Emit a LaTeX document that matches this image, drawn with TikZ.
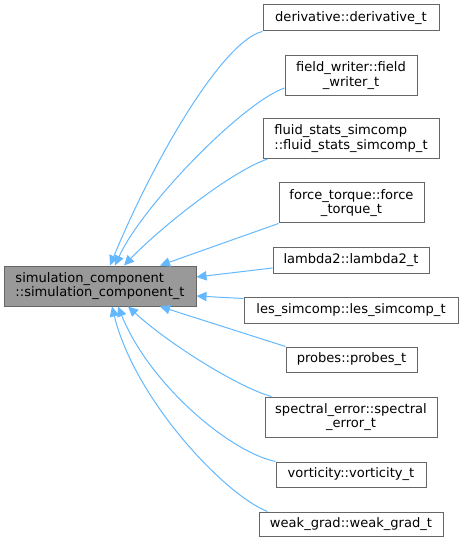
\documentclass[tikz,border=0pt]{standalone}
\usepackage{fontspec}
\setmainfont{DejaVu Sans}
\usetikzlibrary{arrows.meta,calc}
\definecolor{edgeblue}{HTML}{63B8FF}
\definecolor{boxline}{HTML}{666666}
\definecolor{basegray}{HTML}{999999}

\begin{document}
\begin{tikzpicture}[x=0.75pt,y=-0.75pt,
  cls/.style={draw=boxline, fill=white, line width=0.75pt, inner sep=0pt,
    font=\fontsize{9.8pt}{11pt}\selectfont, align=center, minimum height=19.5pt},
  cls2/.style={cls, minimum height=30pt},
  baseclass/.style={cls2, fill=basegray, align=left},
  inh/.style={draw=edgeblue, line width=0.75pt,
    -{Triangle[length=7.5pt,width=7pt]}}]
  \useasboundingbox (0,0) rectangle (464,541);

  \node[baseclass, minimum width=144pt] (base) at (100,286)
    {simulation\_component\\::simulation\_component\_t};

  \node[cls, minimum width=132pt] (deriv) at (351,18) {derivative::derivative\_t};
  \node[cls2, minimum width=99pt] (fwriter) at (351,75.5) {field\_writer::field\\\_writer\_t};
  \node[cls2, minimum width=132pt, align=left] (fstats) at (351,138.5)
    {fluid\_stats\_simcomp\\::fluid\_stats\_simcomp\_t};
  \node[cls2, minimum width=108.75pt] (ftorque) at (351.5,203) {force\_torque::force\\\_torque\_t};
  \node[cls, minimum width=117pt] (lambda) at (351,260) {lambda2::lambda2\_t};
  \node[cls, minimum width=160.5pt] (les) at (351,310) {les\_simcomp::les\_simcomp\_t};
  \node[cls, minimum width=98.25pt, minimum height=18.75pt] (probes) at (351.5,359.5) {probes::probes\_t};
  \node[cls2, minimum width=129pt] (serror) at (351,417) {spectral\_error::spectral\\\_error\_t};
  \node[cls, minimum width=112.5pt, minimum height=18.75pt] (vort) at (351,474.5) {vorticity::vorticity\_t};
  \node[cls, minimum width=138pt, minimum height=18pt] (wgrad) at (351,524) {weak\_grad::weak\_grad\_t};

  \draw[inh] (deriv.south west) .. controls (225,40) and (158,150) .. ($(base.north)+(10,0)$);
  \draw[inh] ($(fwriter.south west)+(0,-8)$) .. controls (242,103) and (142,206) .. ($(base.north)+(15,0)$);
  \draw[inh] ($(fstats.south west)+(5,0)$) .. controls (230,172) and (160,228) .. ($(base.north)+(24,0)$);
  \draw[inh] (ftorque.south west) -- ($(base.north)+(60,0)$);
  \draw[inh] ($(lambda.west)+(0,8)$) -- ($(base.east)+(0,-9)$);
  \draw[inh] ($(les.north west)+(0,2)$) -- ($(base.east)+(0,10)$);
  \draw[inh] (probes.north west) -- ($(base.south)+(60,0)$);
  \draw[inh] ($(serror.north west)+(7,0)$) .. controls (240,388) and (170,345) .. ($(base.south)+(28,0)$);
  \draw[inh] (vort.north west) .. controls (230,452) and (150,385) .. ($(base.south)+(18,0)$);
  \draw[inh] ($(wgrad.north west)+(9,0)$) .. controls (225,495) and (135,400) .. ($(base.south)+(12,0)$);
\end{tikzpicture}
\end{document}
